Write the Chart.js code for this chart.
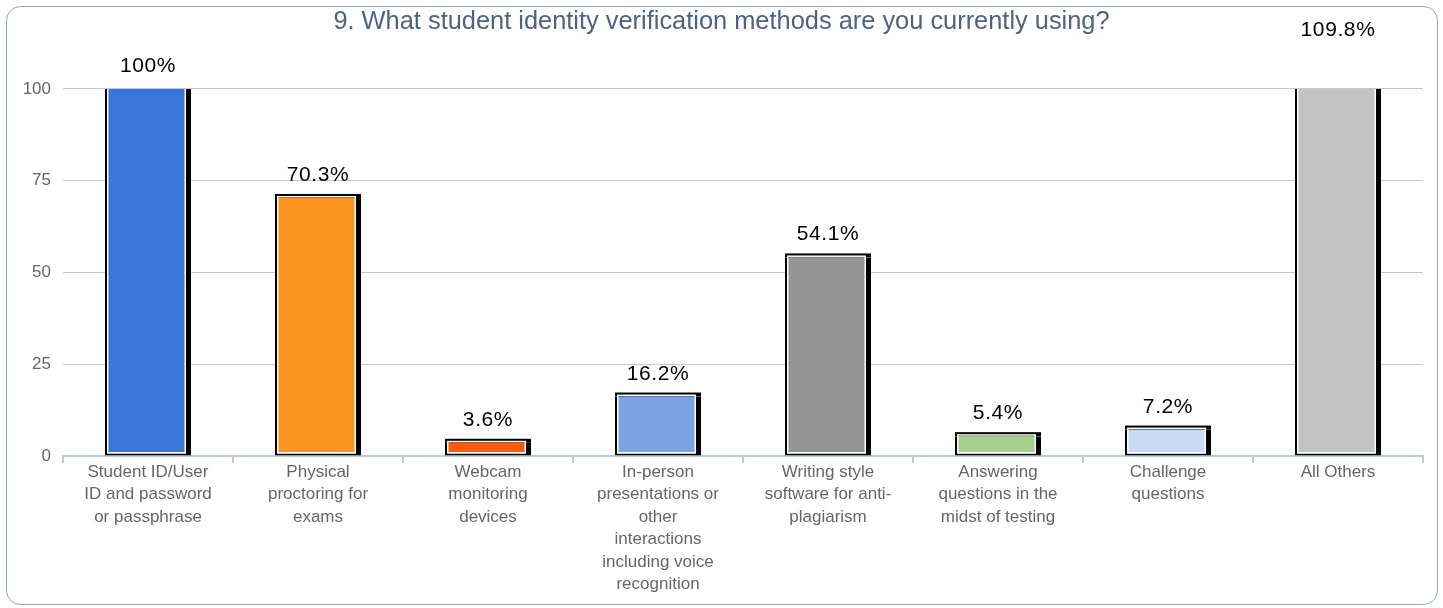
<!DOCTYPE html>
<html><head><meta charset="utf-8">
<script src="https://cdn.jsdelivr.net/npm/chart.js@4/dist/chart.umd.min.js"></script>
<style>html,body{margin:0;padding:0;background:#fff;overflow:hidden}</style>
</head><body>
<canvas id="c" width="1443" height="608" style="width:1443px;height:608px;display:block"></canvas>
<script>
const titleText = '9. What student identity verification methods are you currently using?';
const categories = [
  ['Student ID/User', 'ID and password', 'or passphrase'],
  ['Physical', 'proctoring for', 'exams'],
  ['Webcam', 'monitoring', 'devices'],
  ['In-person', 'presentations or', 'other', 'interactions', 'including voice', 'recognition'],
  ['Writing style', 'software for anti-', 'plagiarism'],
  ['Answering', 'questions in the', 'midst of testing'],
  ['Challenge', 'questions'],
  ['All Others']
];
const values = [100, 70.3, 3.6, 16.2, 54.1, 5.4, 7.2, 109.8];
const valueLabels = ['100%', '70.3%', '3.6%', '16.2%', '54.1%', '5.4%', '7.2%', '109.8%'];
const barColors = ['#3a75d9', '#fb9520', '#fe5a0a', '#7ca3e6', '#959595', '#a8d08d', '#c9daf5', '#c3c3c3'];
const yTicks = [0, 25, 50, 75, 100];

const FONT = '"Liberation Sans", Arial, sans-serif';

const frame = {
  id: 'frame',
  beforeDraw(chart) {
    const ctx = chart.ctx;
    ctx.save();
    ctx.fillStyle = '#fff';
    ctx.fillRect(0, 0, chart.width, chart.height);
    ctx.strokeStyle = '#8ca6c9';
    ctx.lineWidth = 1;
    ctx.beginPath();
    ctx.roundRect(6.5, 6.5, 1431, 598, 14);
    ctx.stroke();
    ctx.restore();
  }
};

const barDecor = {
  id: 'barDecor',
  afterDatasetsDraw(chart) {
    const ctx = chart.ctx, area = chart.chartArea;
    const meta = chart.getDatasetMeta(0);
    ctx.save();
    ctx.beginPath();
    ctx.rect(area.left, area.top, area.right - area.left, area.bottom - area.top);
    ctx.clip();
    meta.data.forEach(bar => {
      const p = bar.getProps(['x', 'y', 'base', 'width'], true);
      const l = p.x - p.width / 2, r = p.x + p.width / 2;
      // outer border sits a little above the value edge, as in the original
      ctx.fillStyle = '#000';
      ctx.fillRect(l, p.y - 4, r - l, 4);
      ctx.strokeStyle = '#ffffff';
      ctx.lineWidth = 1.5;
      ctx.strokeRect(l + 2.75, p.y - 1.25, (r - 5.75) - (l + 2.75), (p.base - 2.75) - (p.y - 1.25));
    });
    ctx.restore();
    ctx.save();
    ctx.font = '21px ' + FONT;
    if ('letterSpacing' in ctx) ctx.letterSpacing = '0.6px';
    ctx.fillStyle = '#000';
    ctx.textAlign = 'center';
    ctx.textBaseline = 'alphabetic';
    meta.data.forEach((bar, i) => {
      ctx.fillText(valueLabels[i], bar.x, bar.y - 17);
    });
    ctx.restore();
  }
};

new Chart(document.getElementById('c'), {
  type: 'bar',
  data: {
    labels: categories,
    datasets: [{
      data: values,
      backgroundColor: barColors,
      borderColor: '#000',
      borderWidth: {top: 0, left: 2, bottom: 2, right: 5},
      borderSkipped: false,
      barPercentage: 0.506,
      categoryPercentage: 1
    }]
  },
  options: {
    responsive: false,
    animation: false,
    layout: {padding: {left: 20, right: 20, top: 0, bottom: 0}},
    plugins: {
      legend: {display: false},
      tooltip: {enabled: false},
      title: {
        display: true,
        text: titleText,
        color: '#4d6382',
        font: {family: FONT, size: 25.4, weight: 'normal', lineHeight: 1.2},
        padding: {top: 7, bottom: 51.5}
      }
    },
    scales: {
      y: {
        min: 0, max: 100,
        afterFit(s) { s.width = 43; },
        afterBuildTicks(s) { s.ticks = yTicks.map(v => ({value: v})); },
        border: {display: false},
        grid: {color: '#c8c8c8', lineWidth: 1, drawTicks: false},
        ticks: {color: '#666', padding: 12, font: {family: FONT, size: 17}}
      },
      x: {
        afterFit(s) { s.height = 152; },
        border: {display: true, color: '#b9cbe0', width: 2},
        grid: {offset: true, drawOnChartArea: false, drawTicks: true, tickLength: 7, color: '#b9cbe0', lineWidth: 2},
        ticks: {color: '#666', padding: -2, maxRotation: 0, autoSkip: false, font: {family: FONT, size: 17, lineHeight: 1.32}}
      }
    }
  },
  plugins: [frame, barDecor]
});
</script>
</body></html>
